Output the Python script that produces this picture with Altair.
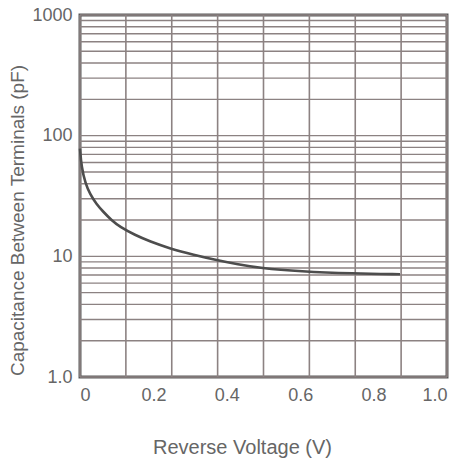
import altair as alt
import pandas as pd

# Curve
voltage = [0.0, 0.004, 0.015, 0.027, 0.045, 0.063, 0.085, 0.109, 0.15, 0.19, 0.245, 0.31, 0.373, 0.43, 0.49, 0.6, 0.744, 0.872]
capacitance = [78, 55, 40, 33, 27, 23.5, 20, 17.5, 15, 13.3, 11.6, 10.3, 9.3, 8.6, 8.0, 7.5, 7.2, 7.1]

# Grid positions
x_grid = [0.0, 0.125, 0.25, 0.375, 0.5, 0.625, 0.75, 0.875, 1.0]
y_grid = [1, 2, 3, 4, 5, 6, 7, 8, 9,
          10, 20, 30, 40, 50, 60, 70, 80, 90,
          100, 200, 300, 400, 500, 600, 700, 800, 900, 1000]

# Tick labels
x_ticks = [0.0, 0.2, 0.4, 0.6, 0.8, 1.0]
y_ticks = [1, 10, 100, 1000]

curve = pd.DataFrame({"v": voltage, "c": capacitance})
xg = pd.DataFrame({"v": x_grid})
yg = pd.DataFrame({"c": y_grid})

FONT = "Liberation Sans"
TXT = "#666666"
GRID = "#8c8282"

xscale = alt.Scale(domain=[0, 1], nice=False)
yscale = alt.Scale(type="log", domain=[1, 1000], nice=False)

xaxis = alt.Axis(
    values=x_ticks, grid=False, ticks=False, domain=False,
    labelExpr="datum.value == 0 ? '0' : format(datum.value, '.1f')",
    labelFont=FONT, labelFontSize=18, labelColor=TXT, labelPadding=9,
    title="Reverse Voltage (V)", titleFont=FONT, titleFontSize=20,
    titleFontWeight="normal", titleColor=TXT,
    titleX=162, titleY=70, titleAnchor="middle", titleAlign="center",
    titleBaseline="middle",
)
yaxis = alt.Axis(
    values=y_ticks, grid=False, ticks=False, domain=False,
    labelExpr="datum.value == 1 ? '1.0' : format(datum.value, 'd')",
    labelFont=FONT, labelFontSize=18, labelColor=TXT, labelPadding=8,
    labelBaseline="middle",
    title="Capacitance Between Terminals (pF)", titleFont=FONT, titleFontSize=19,
    titleFontWeight="normal", titleColor=TXT,
    titleX=-63, titleY=205, titleAngle=-90, titleAlign="center",
    titleBaseline="middle",
)

vgrid = alt.Chart(xg).mark_rule(color=GRID, strokeWidth=1.6).encode(
    x=alt.X("v:Q", scale=xscale, axis=xaxis)
)
hgrid = alt.Chart(yg).mark_rule(color=GRID, strokeWidth=1.4).encode(
    y=alt.Y("c:Q", scale=yscale, axis=yaxis)
)
line = alt.Chart(curve).mark_line(
    color="#4d4d4d", strokeWidth=2.6, interpolate="basis"
).encode(
    x=alt.X("v:Q", scale=xscale),
    y=alt.Y("c:Q", scale=yscale),
)

chart = (
    alt.layer(vgrid, hgrid, line)
    .properties(
        width=367, height=362,
        autosize=alt.AutoSizeParams(type="none"),
        padding={"left": 80, "top": 15, "right": 19, "bottom": 82},
        background="white",
    )
    .configure_view(stroke="#5a5a5a", strokeWidth=3)
)

chart.save("out.html", embed_options={"renderer": "svg", "actions": False})
